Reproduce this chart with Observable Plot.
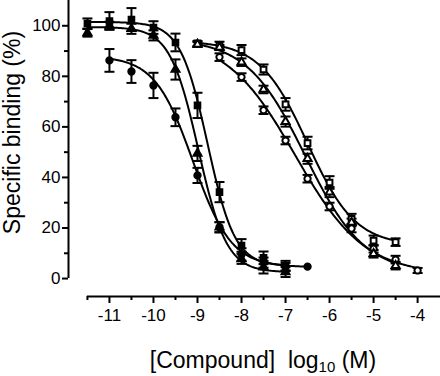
<!DOCTYPE html>
<html><head><meta charset="utf-8">
<script src="https://cdn.jsdelivr.net/npm/d3@7"></script>
<script src="https://cdn.jsdelivr.net/npm/@observablehq/plot@0.6"></script>
<style>
body{margin:0;background:#fff;}
#wrap{width:440px;font-family:"Liberation Sans",Arial,Helvetica,sans-serif;color:#000;}
#xlabel{height:32px;font-size:23px;line-height:24px;padding-top:4px;box-sizing:border-box;text-align:center;padding-left:86px;white-space:pre;}
#xlabel sub{font-size:15px;vertical-align:-4px;line-height:0;}
</style></head><body>
<div id="wrap"><div id="chart"></div><div id="xlabel">[Compound]  log<sub>10</sub> (M)</div></div>
<script>
// ---- data (log10 M concentration, % specific binding, error) ----
const xFilledCircle   = [-11, -10.5, -10, -9.5, -9, -8.5, -8, -7.5, -7, -6.5];
const yFilledCircle   = [86.3, 81.9, 76.4, 63.8, 40.8, 20.3, 9.5, 6.3, 4.7, 4.7];
const eFilledCircle   = [4.5, 4.5, 5, 3.5, 3, 2, 2.5, 2, 1.5, 0];

const xFilledSquare   = [-11.5, -11, -10.5, -10, -9.5, -9, -8.5, -8, -7.5, -7];
const yFilledSquare   = [100.9, 101.9, 102.5, 99.3, 93.4, 68.5, 34.2, 13.1, 8.2, 5.0];
const eFilledSquare   = [2, 3.5, 4.5, 2.5, 3.5, 5, 4, 2.5, 2.5, 2];

const xFilledTriangle = [-11.5, -11, -10.5, -10, -9.5, -9, -8.5, -8, -7.5, -7];
const yFilledTriangle = [97.2, 100.1, 98.8, 96.2, 82.7, 49.5, 20.3, 7.8, 4.5, 2.6];
const eFilledTriangle = [1.5, 1.5, 2, 2, 4, 3, 2, 2, 2.5, 2];

const xOpenCircle     = [-8.5, -8, -7.5, -7, -6.5, -6, -5.5, -5, -4.5, -4];
const yOpenCircle     = [87.6, 79.7, 66.6, 54.6, 39.5, 28.5, 19.8, 11.8, 7.5, 3.2];
const eOpenCircle     = [1.5, 1.5, 1.5, 1.5, 1.5, 1.5, 1.5, 1.5, 1.5, 1];

const xOpenSquare     = [-9, -8.5, -8, -7.5, -7, -6.5, -6, -5.5, -5, -4.5];
const yOpenSquare     = [93.0, 92.2, 90.4, 82.7, 68.9, 53.6, 38.0, 23.6, 15.0, 14.4];
const eOpenSquare     = [1, 1.5, 2, 2, 2.5, 2.5, 2.5, 2, 2, 1.5];

const xOpenTriangle   = [-9, -8.5, -8, -7.5, -7, -6.5, -6, -5.5, -5, -4.5];
const yOpenTriangle   = [92.6, 91.4, 85.6, 74.8, 62.1, 47.4, 34.2, 22.2, 9.8, 5.1];
const eOpenTriangle   = [1, 1, 1.5, 1.5, 2, 2, 2, 1.5, 1.5, 1.5];

// fitted sigmoid parameters (series order: filled ●, ■, ▲, open ○, □, △)
const fitTop      = [88, 101.5, 99.5, 96, 94, 95];
const fitBottom   = [4.5, 5, 2.5, 1.5, 13, 2];
const fitLogIC50  = [-9.1, -8.77, -8.98, -6.78, -6.5, -6.55];
const fitHill     = [1.0, 1.4, 1.35, 0.55, 0.8, 0.65];

const xMajorTicks = [-11, -10, -9, -8, -7, -6, -5, -4];
const xMinorTicks = [-11.5, -10.5, -9.5, -8.5, -7.5, -6.5, -5.5, -4.5];
const yMajorTicks = [0, 20, 40, 60, 80, 100];
const yMinorTicks = [10, 30, 50, 70, 90];
const xDomain = [-11.93, -3.48];
const yDomain = [-7.1, 110];
const xAxisStart = -11.5;
const yAxisTop = 110;
const yTitle = "Specific binding (%)";

// ---- build tables ----
const seriesDefs = [
  {x: xFilledCircle, y: yFilledCircle, e: eFilledCircle, symbol: "circle", fill: "black", r: 4.8},
  {x: xFilledSquare, y: yFilledSquare, e: eFilledSquare, symbol: "square", fill: "black", r: 4.8},
  {x: xFilledTriangle, y: yFilledTriangle, e: eFilledTriangle, symbol: "triangle", fill: "black", r: 4.2},
  {x: xOpenCircle, y: yOpenCircle, e: eOpenCircle, symbol: "circle", fill: "white", r: 4.7},
  {x: xOpenSquare, y: yOpenSquare, e: eOpenSquare, symbol: "square", fill: "white", r: 5.0},
  {x: xOpenTriangle, y: yOpenTriangle, e: eOpenTriangle, symbol: "triangle", fill: "white", r: 4.3}
];
const points = seriesDefs.flatMap((s, i) => s.x.map((x, j) => ({
  s: i, x, y: s.y[j], e: s.e[j], symbol: s.symbol, fill: s.fill, r: s.r
})));
const bars = points.filter(d => d.e > 0);
const fits = seriesDefs.flatMap((s, i) => {
  const x0 = d3.min(s.x), x1 = d3.max(s.x);
  return d3.range(0, 161).map(k => {
    const x = x0 + (x1 - x0) * k / 160;
    return {s: i, x, y: fitBottom[i] + (fitTop[i] - fitBottom[i]) / (1 + Math.pow(10, (x - fitLogIC50[i]) * fitHill[i]))};
  });
});
const capSymbol = {draw(context, size) {
  const w = Math.sqrt(size / Math.PI);
  context.moveTo(-w, 0); context.lineTo(w, 0);
}};

const chart = Plot.plot({
  width: 440, height: 344,
  marginLeft: 68, marginRight: 0, marginTop: 0, marginBottom: 48,
  x: {domain: xDomain},
  y: {domain: yDomain},
  style: {fontFamily: '"Liberation Sans", Arial, Helvetica, sans-serif', fontSize: "17px", color: "black", background: "white", overflow: "visible"},
  marks: [
    Plot.axisY(yMajorTicks, {tickSize: 6, tickPadding: 2, strokeWidth: 2, label: null, tickFormat: d => String(d), fontSize: 17}),
    Plot.axisY(yMinorTicks, {tickSize: 4, strokeWidth: 2, label: null, tickFormat: () => ""}),
    Plot.axisX(xMajorTicks, {tickSize: 7, tickPadding: 5, strokeWidth: 2, label: null, tickFormat: d => String(d), fontSize: 17}),
    Plot.axisX(xMinorTicks, {tickSize: 4, strokeWidth: 2, label: null, tickFormat: () => ""}),
    Plot.ruleX([xDomain[0]], {y1: 0, y2: yAxisTop, strokeWidth: 2}),
    Plot.ruleY([yDomain[0]], {x1: xAxisStart, x2: xDomain[1], strokeWidth: 2}),
    Plot.text([yTitle], {frameAnchor: "left", textAnchor: "middle", rotate: -90, dx: -56, dy: -16, fontSize: 23}),
    Plot.line(fits, {x: "x", y: "y", z: "s", stroke: "black", strokeWidth: 2}),
    Plot.ruleX(bars, {x: "x", y1: d => d.y - d.e, y2: d => d.y + d.e, stroke: "black", strokeWidth: 2}),
    Plot.dot(bars, {x: "x", y: d => d.y + d.e, symbol: capSymbol, r: 5, stroke: "black", strokeWidth: 2}),
    Plot.dot(bars, {x: "x", y: d => d.y - d.e, symbol: capSymbol, r: 5, stroke: "black", strokeWidth: 2}),
    Plot.dot(points, {x: "x", y: "y", symbol: "symbol", fill: "fill", r: "r", stroke: "black", strokeWidth: 2})
  ]
});
document.getElementById("chart").appendChild(chart);
</script>
</body></html>
